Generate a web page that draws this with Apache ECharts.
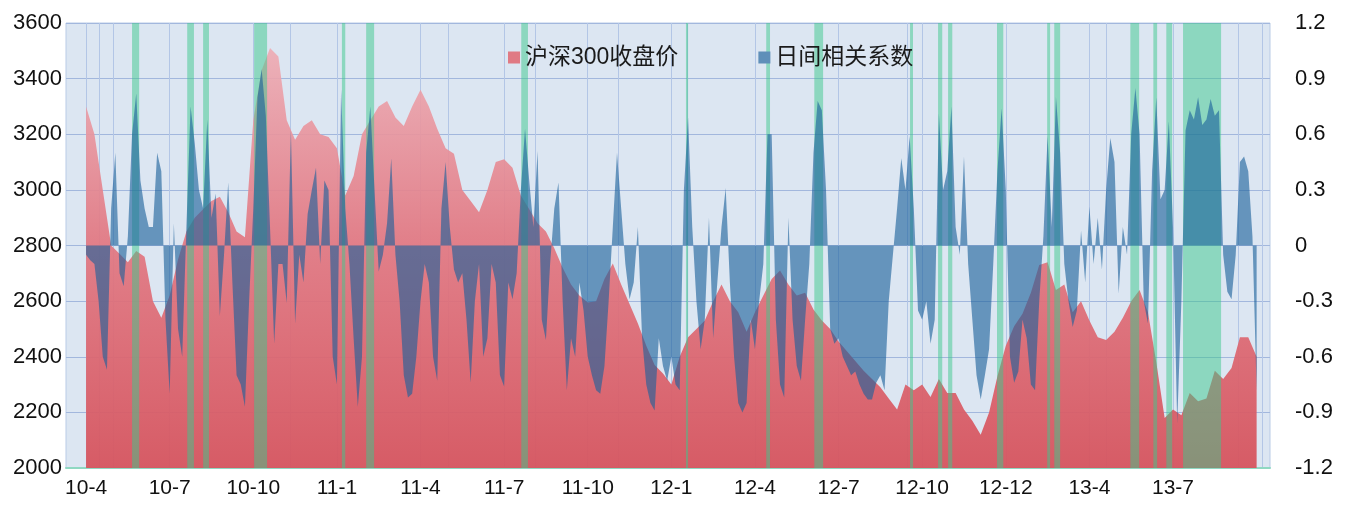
<!DOCTYPE html>
<html>
<head>
<meta charset="utf-8">
<title>沪深300收盘价与日间相关系数</title>
<script src="https://cdn.jsdelivr.net/npm/echarts@6.0.0/dist/echarts.min.js"></script>
<style>
  html, body { margin: 0; padding: 0; background: #fff; }
  #chart { width: 1347px; height: 507px; }
</style>
</head>
<body>
<div id="chart"></div>
<script>
  // x 轴以季度为单位，0 = 10-4
  var quarterLabels = ['10-4', '10-7', '10-10', '11-1', '11-4', '11-7', '11-10',
    '12-1', '12-4', '12-7', '12-10', '12-12', '13-4', '13-7'];

  // 沪深300收盘价，每 0.1 季度一个点
  var priceStep = 0.1;
  var priceValues = [
    3300, 3200, 3000, 2800, 2770, 2740, 2780, 2760, 2600, 2540,
    2620, 2750, 2850, 2900, 2930, 2960, 2975, 2920, 2850, 2830,
    3250, 3430, 3510, 3480, 3250, 3180, 3230, 3250, 3200, 3190,
    3150, 2980, 3050, 3200, 3250, 3300, 3320, 3260, 3230, 3300,
    3360, 3300, 3220, 3150, 3130, 3000, 2960, 2920, 3000, 3100,
    3110, 3080, 2980, 2930, 2880, 2850, 2790, 2720, 2660, 2620,
    2595, 2600, 2680, 2735, 2660, 2590, 2520, 2440, 2370, 2340,
    2300, 2400, 2470, 2500, 2530, 2600, 2660, 2600, 2560, 2490,
    2560, 2620, 2680, 2710, 2660, 2620, 2630, 2570, 2530, 2500,
    2455, 2420, 2385, 2350, 2320, 2290, 2250, 2210, 2300, 2280,
    2300, 2255, 2320, 2270, 2270, 2210, 2170, 2120, 2200, 2330,
    2440, 2510, 2555, 2630, 2730, 2740, 2640, 2660, 2560, 2600,
    2530, 2470, 2460, 2490, 2540, 2600, 2640, 2560, 2380, 2180,
    2210, 2190, 2270, 2240, 2250, 2350, 2320, 2360, 2470, 2470,
    2400
  ];

  // 日间相关系数，每 0.05 季度一个点
  var corrStep = 0.05;
  var corrValues = [
    -0.05, -0.08, -0.1, -0.3, -0.6, -0.67, 0.2, 0.5, -0.15, -0.22,
    0.05, 0.6, 0.82, 0.35, 0.2, 0.1, 0.1, 0.5, 0.4, -0.4,
    -0.8, 0.12, -0.45, -0.6, 0.1, 0.75, 0.55, 0.3, 0.2, 0.68,
    0.15, 0.28, -0.38, -0.05, 0.34, -0.2, -0.7, -0.75, -0.87, -0.3,
    0.2, 0.8, 0.95, 0.7, 0.1, -0.53, -0.1, -0.1, -0.31, 0.62,
    -0.42, -0.05, -0.2, 0.17, 0.3, 0.42, -0.1, 0.35, 0.3, -0.6,
    -0.75, 0.84, 0.2, -0.1, -0.5, -0.87, -0.6, 0.5, 0.75, 0.3,
    -0.14, -0.05, 0.12, 0.47, -0.05, -0.3, -0.7, -0.82, -0.8, -0.6,
    -0.3, -0.1, -0.2, -0.6, -0.73, 0.2, 0.45, 0.1, -0.13, -0.2,
    -0.15, -0.4, -0.74, -0.3, -0.1, -0.6, -0.5, -0.1, -0.2, -0.7,
    -0.76, -0.2, -0.29, -0.15, 0.3, 0.63, 0.35, 0.1, 0.51, -0.4,
    -0.51, -0.1, 0.2, 0.34, -0.3, -0.78, -0.5, -0.6, -0.2, -0.35,
    -0.6, -0.7, -0.78, -0.8, -0.65, -0.3, 0.1, 0.5, 0.2, -0.1,
    -0.29, -0.2, 0.1, -0.5, -0.75, -0.85, -0.89, -0.5, -0.65, -0.73,
    -0.6, -0.75, -0.78, 0.3, 0.69, 0.1, -0.3, -0.56, -0.4, 0.15,
    -0.5, -0.2, 0.1, 0.31, -0.2, -0.6, -0.85, -0.9, -0.85, -0.4,
    -0.56, -0.3, -0.1, 0.6, 0.6, -0.4, -0.75, -0.82, 0.15, -0.4,
    -0.65, -0.73, -0.4, -0.1, 0.5, 0.78, 0.73, 0.3, -0.45, -0.53,
    -0.5, -0.6, -0.65, -0.7, -0.68, -0.75, -0.8, -0.83, -0.83, -0.74,
    -0.7, -0.78, -0.3, -0.05, 0.2, 0.47, 0.3, 0.59, 0.2, -0.35,
    -0.4, -0.3, -0.53, -0.4, 0.71, 0.3, 0.4, 0.75, 0.1, -0.05,
    0.48, -0.1, -0.4, -0.7, -0.83, -0.7, -0.56, -0.1, 0.4, 0.74,
    0.3, -0.6, -0.74, -0.68, -0.4, -0.5, -0.75, -0.78, -0.3, 0.05,
    0.59, 0.1, 0.8, 0.5, -0.1, -0.3, -0.44, -0.35, 0.08, -0.2,
    0.21, -0.1, 0.15, -0.13, 0.3, 0.58, 0.45, -0.26, 0.1, -0.05,
    0.6, 0.85, 0.6, -0.3, -0.42, 0.4, 0.8, 0.25, 0.3, 0.67,
    0.1, -0.96, -0.3, 0.62, 0.73, 0.68, 0.8, 0.65, 0.68, 0.79,
    0.7, 0.73, -0.05, -0.25, -0.29, -0.05, 0.45, 0.48, 0.4, 0.05,
    -0.78
  ];

  // 绿色标记区间（季度）
  var bands = [
    [0.55, 0.635], [1.21, 1.29], [1.40, 1.47], [2.01, 2.165], [3.06, 3.10],
    [3.35, 3.445], [5.205, 5.285], [7.175, 7.2], [8.135, 8.18], [8.71, 8.815],
    [9.855, 9.89], [10.19, 10.24], [10.31, 10.36], [10.895, 10.97], [11.495, 11.53],
    [11.58, 11.65], [12.49, 12.595], [12.765, 12.81], [12.92, 12.99], [13.12, 13.575]
  ];

  // 竖向网格线位置
  var gridQuarters = [0, 0.16, 0.32, 1, 2, 2.44, 3, 4, 4.33, 5, 5.37, 6, 6.36,
    7, 7.19, 8, 9, 9.82, 10, 11, 12, 12.2, 13, 13.78, 14.07];

  function toPairs(values, step) {
    return values.map(function (v, i) {
      return [Math.round(i * step * 1000) / 1000, v];
    });
  }

  var font = "'Liberation Sans', 'Noto Sans CJK SC', sans-serif";
  var chart = echarts.init(document.getElementById('chart'));

  var option = {
    animation: false,
    textStyle: { fontFamily: font },
    grid: {
      left: 66,
      right: 77,
      top: 23,
      bottom: 39,
      show: true,
      backgroundColor: '#dce6f2',
      borderColor: '#b9cbe6',
      borderWidth: 1
    },
    legend: {
      left: 503,
      top: 41,
      itemGap: 80,
      itemWidth: 12,
      itemHeight: 12,
      icon: 'rect',
      textStyle: { fontSize: 23, color: '#1a1a1a', fontFamily: font },
      data: ['沪深300收盘价', '日间相关系数']
    },
    xAxis: {
      type: 'value',
      min: -0.24,
      max: 14.16,
      axisLine: { show: true, onZero: false, lineStyle: { color: '#8fd8c2', width: 2 } },
      axisTick: { show: false, customValues: gridQuarters },
      axisLabel: {
        customValues: quarterLabels.map(function (l, i) { return i; }),
        formatter: function (v) { return quarterLabels[Math.round(v)]; },
        fontSize: 21,
        color: '#111',
        margin: 10
      },
      splitLine: { show: true, lineStyle: { color: '#b3c6e6', width: 1 } }
    },
    yAxis: [
      {
        type: 'value',
        min: 2000,
        max: 3600,
        interval: 200,
        axisLine: { show: false },
        axisTick: { show: false },
        axisLabel: {
          fontSize: 22,
          color: '#111',
          margin: 4,
          formatter: function (v) { return String(v); }
        },
        splitLine: { lineStyle: { color: '#a2b7dd', width: 1 } }
      },
      {
        type: 'value',
        min: -1.2,
        max: 1.2,
        interval: 0.3,
        axisLine: { show: false },
        axisTick: { show: false },
        axisLabel: {
          fontSize: 22,
          color: '#111',
          margin: 25,
          formatter: function (v) { return String(Math.round(v * 10) / 10); }
        },
        splitLine: { show: false }
      }
    ],
    series: [
      {
        name: '沪深300收盘价',
        type: 'line',
        yAxisIndex: 0,
        z: 1,
        showSymbol: false,
        symbol: 'none',
        lineStyle: { width: 0 },
        itemStyle: { color: '#e07a84' },
        areaStyle: {
          opacity: 1,
          color: new echarts.graphic.LinearGradient(0, 0, 0, 1, [
            { offset: 0, color: 'rgba(238,172,180,0.9)' },
            { offset: 0.45, color: 'rgba(226,120,130,0.92)' },
            { offset: 1, color: 'rgba(214,84,94,0.95)' }
          ])
        },
        data: toPairs(priceValues, priceStep)
      },
      {
        name: '日间相关系数',
        type: 'line',
        yAxisIndex: 1,
        z: 3,
        showSymbol: false,
        symbol: 'none',
        lineStyle: { width: 0 },
        itemStyle: { color: '#5f8fb9' },
        areaStyle: { color: 'rgba(27,97,155,0.62)', opacity: 1 },
        data: toPairs(corrValues, corrStep)
      },
      {
        // 绿色区间画在红色之上、蓝色之下
        name: 'bands',
        type: 'line',
        z: 2,
        silent: true,
        data: [],
        markArea: {
          silent: true,
          z: 2,
          itemStyle: { color: 'rgba(60,200,140,0.5)' },
          data: bands.map(function (b) {
            return [{ xAxis: b[0] }, { xAxis: b[1] }];
          })
        }
      }
    ]
  };

  chart.setOption(option);
</script>
</body>
</html>
